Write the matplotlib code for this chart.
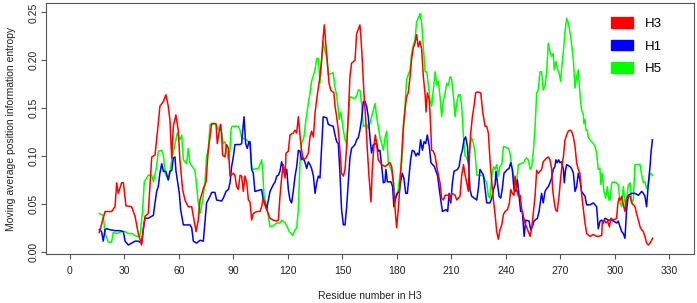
import matplotlib
matplotlib.use('Agg')
import matplotlib.pyplot as plt
from matplotlib.patches import Patch

plt.rcParams['font.family'] = ['Liberation Sans', 'DejaVu Sans']

### DATA (residue, moving average entropy)

h3_pts = [(16.1,.020),(19.3,.042),(22.9,.042),(24.8,.047),(25.7,.072),(26.6,.061),(28.4,.072),(29.4,.072),
          (30.8,.048),(33.9,.047),(35.8,.037),(37.6,.019),(39.4,.007),(41.3,.037),(43.1,.040),(45.0,.099),
          (46.8,.101),(48.6,.134),(49.5,.152),(51.4,.157),(52.8,.164),(54.1,.152),(55.0,.138),(56.0,.098),
          (56.9,.131),(58.3,.143),(59.6,.127),(60.5,.096),(62.0,.065),(63.3,.054),(65.1,.047),(67.0,.047),
          (68.3,.033),(69.4,.021),(70.6,.033),(71.6,.054),(73.4,.066),(74.9,.073),(76.1,.106),(77.1,.120),
          (78.0,.134),(79.8,.134),(80.4,.133),(81.1,.113),(82.0,.124),(82.9,.133),(83.5,.122),(84.0,.101),
          (85.3,.099),(86.2,.112),(87.2,.108),(88.1,.079),(89.9,.082),(90.8,.080),(91.7,.068),(92.7,.065),
          (93.6,.080),(94.5,.079),(95.4,.063),(96.3,.079),(97.3,.072),(98.2,.054),(99.1,.052),(100.0,.033),
          (100.9,.040),(102.8,.042),(104.6,.042),(105.5,.047),(106.4,.056),(107.3,.049),(108.3,.044),(110.1,.035),
          (111.9,.033),(113.8,.032),(114.7,.033),(115.6,.058),(116.5,.077),(117.4,.091),(118.4,.077),(118.9,.103),
          (120.2,.105),(121.1,.122),(122.9,.124),(123.9,.127),(124.8,.124),(125.7,.141),(126.6,.122),(127.5,.106),
          (128.5,.096),(129.9,.098),(131.2,.103),(132.1,.120),(133.0,.126),(134.0,.120),(134.9,.145),(135.8,.159),
          (136.7,.171),(137.6,.183),(138.5,.200),(139.4,.225),(140.0,.237),(140.7,.220),(141.6,.200),(142.6,.176),
          (143.5,.169),(145.3,.166),(145.9,.152),(146.8,.141),(147.7,.127),(148.6,.106),(149.5,.082),(150.5,.079),
          (151.4,.086),(152.3,.110),(153.2,.141),(154.1,.183),(155.0,.197),(156.9,.200),(157.8,.228),(159.6,.237),
          (160.2,.223),(161.1,.193),(161.8,.166),(162.7,.141),(163.7,.106),(164.6,.079),(165.7,.052),(166.4,.086),
          (167.3,.110),(168.1,.122),(168.8,.113),(169.7,.096),(171.6,.091),(173.4,.089),(176.1,.093),(177.1,.089),
          (178.0,.072),(178.9,.046),(179.8,.025),(180.7,.044),(181.6,.068),(182.6,.101),(183.5,.131),(184.4,.148),
          (185.3,.162),(186.2,.166),(187.2,.183),(188.1,.202),(189.0,.213),(189.9,.218),(190.8,.227),(191.7,.214),
          (192.7,.220),(193.6,.211),(194.5,.183),(195.5,.164),(196.0,.146),(196.7,.166),(197.7,.159),(198.2,.145),
          (199.1,.106),(200.0,.105),(201.0,.100),(201.9,.089),(202.8,.080),(203.7,.072),(204.6,.056),(205.5,.054),
          (206.5,.059),(208.3,.059),(209.2,.054),(210.1,.061),(212.0,.059),(212.9,.054),(214.7,.058),(215.6,.079),
          (216.6,.091),(217.5,.080),(218.4,.072),(219.3,.063),(219.9,.100),(220.6,.124),(221.5,.141),(222.4,.152),
          (223.3,.166),(224.3,.167),(226.1,.166),(226.6,.157),(227.2,.146),(228.5,.131),(229.4,.131),(230.3,.124),
          (231.2,.096),(232.2,.072),(233.1,.054),(234.0,.039),(234.9,.021),(235.8,.013),(236.7,.023),(237.7,.028),
          (238.6,.039),(239.5,.042),(240.8,.044),(241.9,.051),(242.6,.065),(243.5,.061),(244.4,.059),(245.0,.079),
          (245.9,.065),(246.8,.058),(247.8,.059),(248.7,.044),(249.6,.037),(250.5,.030),(252.3,.021),(253.3,.016),
          (254.2,.025),(255.1,.042),(256.0,.058),(256.9,.085),(257.8,.082),(259.6,.086),(260.5,.094),(262.4,.098),
          (263.3,.099),(264.2,.096),(265.1,.087),(265.7,.065),(266.4,.054),(267.3,.044),(268.2,.042),(269.2,.058),
          (270.1,.077),(271.0,.093),(271.6,.099),(272.5,.117),(273.4,.122),(274.3,.126),(275.2,.127),(276.1,.126),
          (277.1,.120),(278.0,.110),(278.9,.093),(279.8,.086),(280.7,.082),(281.6,.061),(282.6,.044),(283.5,.030),
          (284.4,.019),(286.2,.016),(288.1,.018),(289.9,.016),(290.8,.016),(292.7,.017),(293.0,.030),(294.1,.033),
          (295.1,.030),(296.0,.032),(296.9,.026),(297.8,.035),(299.1,.033),(300.9,.035),(301.5,.049),(302.2,.056),
          (302.9,.054),(303.7,.058),(304.6,.049),(305.5,.042),(306.4,.056),(307.4,.058),(308.3,.058),(309.2,.051),
          (311.0,.047),(311.9,.040),(312.9,.033),(313.8,.026),(314.7,.023),(315.6,.021),(316.5,.016),(317.4,.009),
          (318.4,.007),(319.3,.009),(320.2,.012),(320.7,.014)]

h1_pts = [(16.1,.023),(17.4,.021),(18.3,.011),(19.3,.023),(20.2,.024),(22.0,.023),(24.8,.022),(27.5,.022),
          (29.4,.021),(30.3,.011),(32.1,.007),(33.9,.009),(35.8,.011),(37.6,.011),(39.4,.009),(40.4,.025),
          (41.3,.035),(43.1,.035),(45.0,.037),(45.9,.038),(46.8,.051),(47.7,.063),(48.6,.068),(49.5,.082),
          (50.5,.092),(51.4,.084),(52.8,.084),(54.1,.075),(55.0,.084),(56.0,.085),(56.9,.098),(57.8,.099),
          (58.3,.085),(59.1,.075),(60.2,.061),(60.9,.044),(62.4,.028),(66.1,.028),(67.0,.025),(67.9,.011),
          (69.7,.009),(71.6,.012),(73.4,.011),(75.2,.051),(77.1,.058),(78.0,.062),(79.8,.062),(80.7,.054),
          (83.5,.053),(84.4,.056),(85.9,.063),(87.2,.065),(88.1,.072),(89.0,.089),(89.9,.099),(90.8,.112),
          (93.6,.112),(94.5,.113),(95.1,.127),(95.8,.141),(96.7,.113),(97.6,.108),(98.5,.115),(99.1,.115),
          (100.0,.086),(100.9,.082),(101.8,.063),(105.5,.065),(106.4,.054),(107.3,.051),(108.3,.044),(109.2,.054),
          (110.1,.063),(111.9,.070),(112.9,.073),(113.8,.079),(114.7,.080),(115.6,.084),(116.5,.094),(117.4,.087),
          (118.4,.080),(119.3,.086),(120.2,.065),(121.1,.054),(122.0,.051),(122.9,.063),(123.9,.079),(124.8,.089),
          (125.7,.106),(126.6,.105),(127.5,.096),(128.5,.098),(129.4,.093),(130.3,.087),(131.2,.094),(132.1,.091),
          (133.0,.087),(134.0,.079),(134.9,.061),(135.8,.072),(136.7,.079),(137.6,.077),(138.5,.108),(139.4,.141),
          (141.3,.140),(142.2,.133),(144.9,.131),(145.9,.122),(146.8,.115),(147.7,.113),(148.6,.082),(149.5,.044),
          (150.5,.028),(151.4,.028),(152.3,.047),(153.2,.072),(154.1,.098),(155.0,.108),(156.9,.112),(157.8,.117),
          (158.7,.119),(159.6,.127),(160.5,.138),(161.5,.157),(162.4,.157),(163.3,.152),(164.2,.141),(165.1,.120),
          (166.0,.103),(167.0,.112),(168.8,.113),(169.7,.105),(170.6,.106),(171.6,.089),(172.5,.072),(173.4,.073),
          (173.9,.086),(174.7,.073),(176.7,.073),(177.6,.068),(178.3,.047),(179.3,.056),(180.2,.061),(181.3,.063),
          (182.0,.073),(182.9,.082),(183.8,.077),(184.8,.061),(185.7,.061),(186.6,.079),(187.5,.096),(188.4,.106),
          (189.4,.105),(190.5,.100),(191.2,.103),(192.1,.101),(193.0,.117),(194.0,.106),(194.9,.115),(195.8,.113),
          (196.7,.122),(197.8,.110),(198.7,.093),(200.6,.089),(201.5,.084),(202.4,.079),(203.3,.065),(204.3,.051),
          (205.0,.042),(207.0,.044),(207.9,.042),(208.7,.061),(209.6,.051),(210.5,.072),(211.4,.084),(213.3,.086),
          (214.2,.089),(215.1,.100),(216.0,.106),(216.9,.117),(217.8,.120),(218.8,.110),(219.7,.082),(220.2,.065),
          (221.1,.058),(223.9,.054),(224.8,.066),(225.7,.086),(227.6,.080),(228.5,.065),(229.4,.051),(231.2,.051),
          (232.2,.056),(233.1,.065),(234.0,.070),(234.5,.084),(235.3,.072),(236.2,.058),(237.1,.056),(238.0,.066),
          (238.9,.082),(240.8,.086),(241.7,.087),(242.6,.093),(243.5,.086),(244.4,.065),(245.4,.063),(246.3,.075),
          (247.2,.058),(248.1,.042),(249.0,.042),(250.0,.016),(250.9,.033),(252.7,.032),(253.6,.023),(254.5,.026),
          (255.4,.032),(257.3,.035),(258.2,.042),(259.6,.061),(260.5,.051),(261.5,.063),(262.4,.066),(263.3,.068),
          (264.2,.072),(265.1,.077),(266.0,.086),(266.9,.089),(267.5,.096),(268.2,.093),(269.0,.096),(269.7,.093),
          (270.6,.094),(271.6,.086),(272.1,.072),(272.7,.084),(273.4,.091),(275.2,.089),(276.1,.087),(277.1,.082),
          (278.0,.063),(278.9,.068),(279.8,.082),(280.7,.075),(281.6,.063),(283.5,.058),(284.4,.049),(286.2,.049),
          (288.1,.051),(289.9,.047),(290.8,.024),(291.8,.032),(292.7,.033),(293.6,.030),(294.5,.035),(296.3,.033),
          (298.2,.033),(299.1,.032),(300.9,.030),(301.8,.032),(302.8,.026),(303.7,.021),(304.6,.019),(305.5,.014),
          (306.4,.044),(307.4,.059),(309.2,.061),(311.0,.061),(312.9,.059),(314.7,.063),(315.6,.061),(316.5,.058),
          (317.4,.047),(318.4,.072),(319.3,.089),(319.8,.103),(320.6,.117)]

h5_pts = [(16.1,.040),(18.3,.038),(19.3,.019),(21.1,.010),(22.9,.010),(23.8,.020),(25.7,.019),(28.4,.021),
          (30.3,.021),(32.1,.019),(33.9,.019),(36.7,.016),(38.5,.016),(40.0,.044),(40.9,.073),(43.1,.080),
          (45.0,.080),(45.9,.073),(47.7,.089),(48.6,.105),(50.5,.106),(51.4,.101),(52.3,.082),(54.1,.075),
          (55.0,.082),(56.0,.096),(57.8,.112),(59.1,.124),(60.5,.117),(61.5,.122),(62.4,.096),(64.2,.092),
          (65.1,.108),(66.1,.092),(68.8,.085),(70.6,.052),(71.6,.040),(73.0,.053),(74.3,.072),(75.2,.100),
          (76.1,.106),(77.1,.133),(78.9,.133),(80.4,.134),(81.7,.127),(82.9,.133),(83.5,.124),(84.4,.113),
          (85.3,.115),(86.2,.106),(87.2,.096),(88.1,.106),(88.6,.127),(89.2,.131),(92.7,.131),(93.6,.127),
          (94.5,.119),(97.3,.117),(99.1,.113),(100.0,.089),(100.9,.086),(103.7,.087),(104.6,.091),(105.5,.096),
          (106.1,.084),(106.8,.059),(108.3,.047),(109.2,.037),(110.1,.026),(111.9,.027),(113.8,.030),(115.6,.030),
          (116.5,.033),(118.4,.030),(119.6,.026),(120.7,.021),(122.6,.017),(123.9,.023),(124.8,.025),(125.7,.044),
          (126.6,.093),(127.5,.113),(128.8,.120),(129.9,.138),(131.2,.155),(132.1,.165),(133.0,.178),(134.9,.190),
          (135.8,.202),(136.7,.202),(137.6,.176),(138.5,.200),(139.4,.220),(140.4,.209),(141.3,.204),(142.2,.185),
          (144.9,.187),(145.9,.171),(146.8,.164),(147.7,.148),(148.2,.138),(149.0,.146),(149.7,.138),(150.5,.127),
          (151.4,.117),(152.3,.112),(153.2,.141),(154.1,.162),(156.9,.160),(157.8,.163),(158.7,.169),(159.6,.169),
          (160.5,.155),(161.5,.131),(163.3,.133),(164.2,.129),(165.1,.134),(166.0,.141),(167.0,.148),(167.9,.155),
          (168.8,.141),(169.7,.131),(170.6,.120),(171.6,.113),(172.5,.106),(173.4,.119),(174.3,.126),(175.2,.093),
          (176.1,.089),(177.1,.084),(178.0,.075),(178.9,.056),(179.8,.059),(180.7,.065),(181.6,.079),(182.6,.093),
          (183.5,.124),(184.4,.152),(185.3,.180),(186.2,.185),(187.2,.190),(188.1,.207),(189.0,.216),(189.9,.221),
          (190.8,.240),(191.7,.244),(192.7,.249),(193.6,.239),(194.5,.214),(195.5,.188),(196.4,.188),(197.3,.173),
          (198.2,.159),(199.1,.152),(200.0,.169),(201.0,.188),(201.9,.174),(202.8,.178),(203.7,.162),(204.6,.141),
          (205.5,.157),(206.5,.166),(207.4,.176),(208.3,.174),(209.2,.183),(210.1,.180),(211.1,.162),(212.0,.141),
          (212.9,.155),(213.8,.164),(214.7,.164),(215.6,.153),(216.6,.120),(217.5,.100),(218.4,.098),(219.3,.093),
          (220.2,.113),(221.1,.119),(222.1,.113),(223.0,.103),(223.9,.080),(225.7,.080),(227.6,.079),(228.5,.075),
          (229.4,.072),(230.3,.058),(231.2,.056),(232.2,.079),(233.1,.089),(234.0,.086),(234.9,.091),(235.8,.079),
          (236.7,.089),(237.7,.091),(238.6,.110),(241.3,.108),(242.2,.103),(243.2,.089),(244.1,.080),(245.0,.070),
          (245.9,.073),(246.8,.091),(249.6,.093),(250.5,.096),(251.4,.098),(252.3,.096),(253.3,.086),(254.2,.089),
          (255.1,.106),(256.0,.130),(256.9,.166),(257.8,.169),(258.7,.188),(259.6,.188),(260.5,.169),(261.5,.173),
          (262.4,.188),(263.3,.218),(264.2,.209),(265.1,.204),(266.0,.207),(266.6,.190),(267.5,.199),(268.2,.192),
          (269.3,.186),(270.1,.178),(270.8,.195),(271.6,.209),(272.5,.230),(273.4,.244),(274.3,.239),(274.9,.233),
          (275.6,.225),(276.3,.214),(277.1,.200),(278.0,.171),(278.9,.183),(279.8,.190),(280.4,.173),(281.1,.157),
          (281.6,.148),(282.6,.143),(282.9,.134),(283.5,.138),(284.0,.127),(284.8,.127),(285.3,.119),(287.1,.115),
          (288.1,.113),(289.0,.110),(289.9,.103),(290.8,.086),(291.7,.087),(292.3,.070),(293.0,.082),(293.9,.063),
          (294.9,.056),(295.8,.068),(296.7,.054),(297.3,.054),(298.2,.072),(299.1,.073),(300.9,.072),(301.8,.070),
          (302.8,.051),(303.7,.047),(304.6,.068),(305.1,.058),(305.9,.046),(306.6,.058),(307.4,.070),(308.3,.072),
          (309.2,.051),(310.1,.054),(311.0,.091),(313.8,.091),(314.7,.080),(315.6,.072),(316.5,.073),(317.4,.066),
          (318.4,.070),(319.3,.082),(320.7,.080)]

series_names = ['H3', 'H1', 'H5']
series_colors = ['#ff0000', '#0000ff', '#00ff00']
x_ticks = list(range(0, 331, 30))
y_ticks = [0.00, 0.05, 0.10, 0.15, 0.20, 0.25]

### PLOT

W, H = 697, 303
fig = plt.figure(figsize=(W / 100, H / 100), dpi=100)
ax = fig.add_axes([46 / W, (H - 254) / H, 648 / W, 250.7 / H])

all_pts = {'H3': h3_pts, 'H1': h1_pts, 'H5': h5_pts}
for name, col in zip(['H5', 'H1', 'H3'], ['#00ff00', '#0000ff', '#ff0000']):
    xs = [p[0] for p in all_pts[name]]
    ys = [p[1] for p in all_pts[name]]
    ax.plot(xs, ys, color=col, lw=1.1)

ax.set_xlim(-13.2, 343.5)
ax.set_ylim(-0.0024, 0.2596)
ax.set_xticks(x_ticks)
ax.set_yticks(y_ticks)
ax.set_yticklabels(['%.2f' % v for v in y_ticks], rotation=90, va='center')

for s in ax.spines.values():
    s.set_color('#555555')
    s.set_linewidth(0.8)
ax.tick_params(direction='out', length=3.6, width=0.8, color='#555555',
               labelsize=7.5, labelcolor='#222222')
ax.tick_params(axis='x', pad=5)
ax.tick_params(axis='y', pad=2)

fig.text(370 / W, 1 - 296 / H, 'Residue number in H3', ha='center', va='center',
         fontsize=7.5, color='#222222')
fig.text(11 / W, 1 - 128.7 / H, 'Moving average position information entropy',
         ha='center', va='center', rotation=90, fontsize=7.5, color='#222222')

handles = [Patch(facecolor=c, edgecolor=c) for c in series_colors]
ax.legend(handles, series_names, loc='upper left', bbox_to_anchor=(604 / W, 1 - 10 / H),
          bbox_transform=fig.transFigure, frameon=False, fontsize=9.5, borderpad=0,
          handlelength=1.7, handleheight=0.9, handletextpad=0.9, labelspacing=0.75)

fig.savefig('out.png', dpi=100)
